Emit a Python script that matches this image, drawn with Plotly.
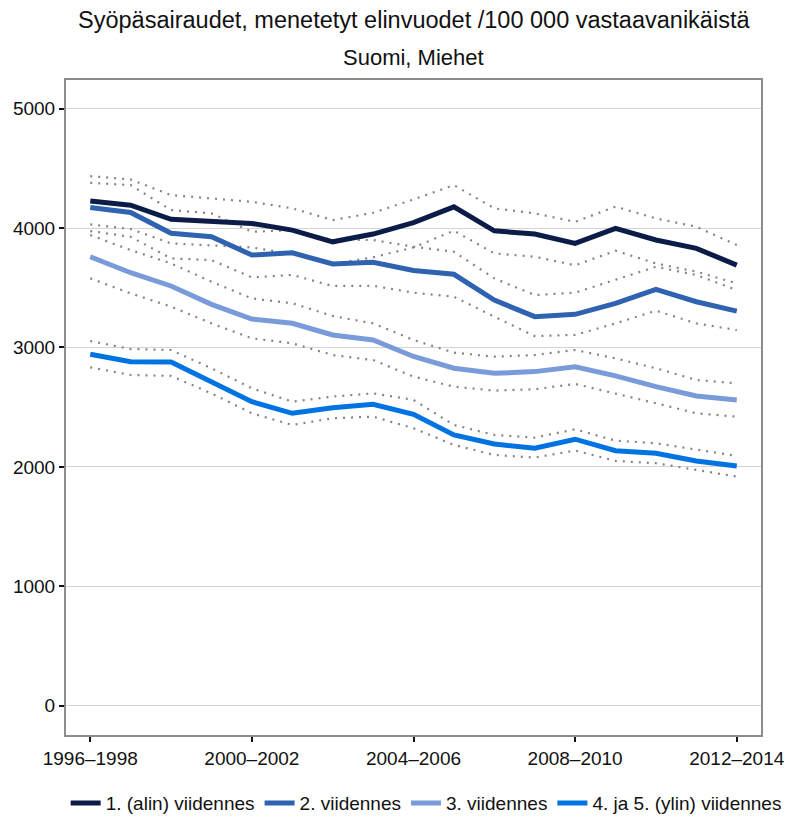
import plotly.graph_objects as go

# Three-year periods on the x axis
periods = [f"{y}\u2013{y + 2}" for y in range(1996, 2013)]
tick_labels = ["1996\u20131998", "2000\u20132002", "2004\u20132006", "2008\u20132010", "2012\u20132014"]

# Lost life-years per 100 000 by income fifth (men, Finland)
q1 = [4226, 4192, 4073, 4053, 4039, 3983, 3885, 3950, 4046, 4178, 3977, 3950, 3872, 3997, 3900, 3830, 3690]
q2 = [4173, 4131, 3956, 3927, 3774, 3793, 3699, 3713, 3645, 3613, 3397, 3258, 3278, 3370, 3487, 3383, 3305]
q3 = [3760, 3626, 3515, 3361, 3238, 3203, 3105, 3063, 2925, 2826, 2784, 2798, 2839, 2762, 2672, 2594, 2561]
q45 = [2943, 2881, 2879, 2714, 2546, 2449, 2496, 2525, 2440, 2268, 2192, 2156, 2232, 2136, 2115, 2050, 2008]

# 95 % confidence limits
q1_hi = [4435, 4407, 4276, 4248, 4220, 4165, 4067, 4128, 4240, 4360, 4165, 4123, 4053, 4179, 4081, 4011, 3858]
q1_lo = [4031, 3992, 3872, 3855, 3838, 3782, 3699, 3755, 3838, 3978, 3788, 3760, 3688, 3810, 3704, 3635, 3537]
q2_hi = [4379, 4360, 4151, 4123, 3969, 3983, 3900, 3900, 3844, 3802, 3579, 3439, 3459, 3565, 3676, 3607, 3481]
q2_lo = [3975, 3927, 3746, 3732, 3587, 3607, 3515, 3517, 3459, 3425, 3258, 3096, 3105, 3202, 3308, 3202, 3146]
q3_hi = [3941, 3816, 3704, 3551, 3411, 3370, 3264, 3202, 3063, 2957, 2923, 2937, 2979, 2909, 2826, 2728, 2700]
q3_lo = [3579, 3453, 3342, 3202, 3077, 3035, 2937, 2895, 2756, 2672, 2639, 2650, 2695, 2616, 2533, 2449, 2421]
q45_hi = [3054, 2987, 2979, 2826, 2658, 2547, 2589, 2616, 2561, 2351, 2268, 2245, 2315, 2220, 2198, 2142, 2092]
q45_lo = [2834, 2770, 2762, 2616, 2449, 2351, 2407, 2421, 2324, 2184, 2100, 2078, 2137, 2050, 2031, 1975, 1919]

names = ["1. (alin) viidennes", "2. viidennes", "3. viidennes", "4. ja 5. (ylin) viidennes"]
colors = ["#0c1c48", "#2f63b1", "#7a9bda", "#0073e2"]
series = [q1, q2, q3, q45]
limits = [(q1_hi, q1_lo), (q2_hi, q2_lo), (q3_hi, q3_lo), (q45_hi, q45_lo)]

title_main = "Syöpäsairaudet, menetetyt elinvuodet /100 000 vastaavanikäistä"
title_sub = "Suomi, Miehet"

x = list(range(len(periods)))
fig = go.Figure()

for hi, lo in limits:
    for band in (hi, lo):
        fig.add_trace(go.Scatter(
            x=x, y=band, mode="lines", showlegend=False, hoverinfo="skip",
            line=dict(color="#858585", width=2.2, dash="2px,6px"),
        ))

for name, col, vals in zip(names, colors, series):
    fig.add_trace(go.Scatter(
        x=x, y=vals, mode="lines", name=name,
        line=dict(color=col, width=5),
    ))

tick_pos = [periods.index(t) for t in tick_labels]

# Two title lines with wider spacing than a single <br> title gives
for text, ypos, fsize in ((title_main, 1.0916, 23.5), (title_sub, 1.0351, 22)):
    fig.add_annotation(
        text=text, x=0.5, xref="paper", y=ypos, yref="paper",
        xanchor="center", yanchor="middle", showarrow=False,
        font=dict(size=fsize, color="#111111"),
    )

fig.update_layout(
    width=789, height=820,
    paper_bgcolor="white", plot_bgcolor="white",
    margin=dict(l=66, r=28, t=80, b=85, autoexpand=False),
    font=dict(family="Liberation Sans, Arial, sans-serif", size=19, color="#111111"),
    xaxis=dict(
        range=[-0.6, 16.6], tickmode="array", tickvals=tick_pos, ticktext=tick_labels,
        showgrid=False, zeroline=False, ticks="outside", ticklen=5, tickwidth=2,
        tickcolor="#111111", showline=True, linecolor="#8c8c8c", linewidth=2, mirror=True,
    ),
    yaxis=dict(
        range=[-245, 5240], tickvals=[0, 1000, 2000, 3000, 4000, 5000],
        showgrid=True, gridcolor="#d4d4d4", gridwidth=1, zeroline=False,
        ticks="outside", ticklen=5, tickwidth=2, tickcolor="#111111",
        showline=True, linecolor="#8c8c8c", linewidth=2, mirror=True,
    ),
    # Anchored (just) left of the plot area so the row may use the margin width too
    legend=dict(
        orientation="h", x=-0.0005, xanchor="left", xref="paper",
        y=-0.104, yanchor="middle", yref="paper",
        font=dict(size=19), itemwidth=30, tracegroupgap=0,
    ),
    showlegend=True,
)

fig.write_html("out.html")
